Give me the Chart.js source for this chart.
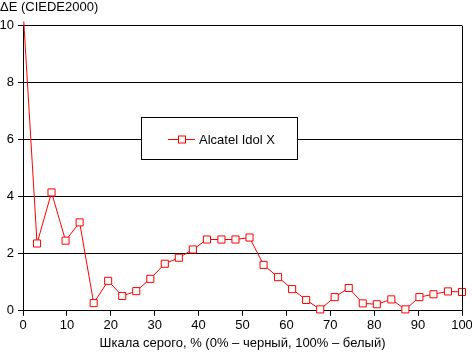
<!DOCTYPE html>
<html>
<head>
<meta charset="utf-8">
<script src="https://cdn.jsdelivr.net/npm/chart.js@4/dist/chart.umd.min.js"></script>
<style>
  body { margin: 0; background: #fff; }
  #wrap { width: 472px; height: 352px; }
</style>
</head>
<body>
<div id="wrap"><canvas id="c" width="472" height="352"></canvas></div>
<script>
// grey level (%) and delta E values
const grayLevels = [0, 3.2, 6.5, 9.7, 12.9, 16.1, 19.4, 22.6, 25.8, 29.0, 32.3, 35.5, 38.7, 41.9, 45.2, 48.4,
                    51.6, 54.8, 58.1, 61.3, 64.5, 67.7, 71.0, 74.2, 77.4, 80.6, 83.9, 87.1, 90.3, 93.5, 96.8, 100];
const deltaE = [10.6, 2.36, 4.15, 2.46, 3.10, 0.27, 1.05, 0.52, 0.69, 1.12, 1.65, 1.86, 2.15, 2.50, 2.50, 2.50,
                2.57, 1.61, 1.18, 0.76, 0.38, 0.05, 0.48, 0.80, 0.26, 0.23, 0.40, 0.05, 0.48, 0.58, 0.68, 0.66];
const seriesName = 'Alcatel Idol X';
const yTitle = 'ΔE (CIEDE2000)';
const xTitle = 'Шкала серого, % (0% – черный, 100% – белый)';

const FONT = 'Arial, "Liberation Sans", sans-serif';

// right border + legend box sitting inside the plot
const extras = {
    id: 'extras',
    afterDraw(chart) {
        const { ctx, chartArea } = chart;
        ctx.save();
        ctx.strokeStyle = '#000';
        ctx.lineWidth = 1;
        ctx.beginPath();
        ctx.moveTo(Math.round(chartArea.right) + 0.5, chartArea.top);
        ctx.lineTo(Math.round(chartArea.right) + 0.5, chartArea.bottom);
        ctx.stroke();

        // legend
        ctx.fillStyle = '#fff';
        ctx.fillRect(141.5, 117.5, 156, 42);
        ctx.strokeRect(141.5, 117.5, 156, 42);
        ctx.strokeStyle = '#ff0000';
        ctx.beginPath();
        ctx.moveTo(168, 139.5);
        ctx.lineTo(195, 139.5);
        ctx.stroke();
        ctx.fillStyle = '#fff';
        ctx.fillRect(178.5, 136, 7, 7);
        ctx.strokeRect(178.5, 136, 7, 7);
        ctx.fillStyle = '#000';
        ctx.font = '13px ' + FONT;
        ctx.textBaseline = 'middle';
        ctx.fillText(seriesName, 199, 140);
        ctx.restore();
    }
};

new Chart(document.getElementById('c'), {
    type: 'line',
    data: {
        datasets: [{
            label: seriesName,
            data: grayLevels.map((x, i) => ({ x, y: deltaE[i] })),
            borderColor: '#ff0000',
            borderWidth: 1,
            backgroundColor: '#ffffff',
            pointStyle: 'rect',
            pointRadius: 5,
            pointBorderWidth: 1,
            pointBorderColor: '#ff0000',
            pointBackgroundColor: '#ffffff',
            tension: 0,
            clip: { left: 6, right: 6, top: 4, bottom: 6 }
        }]
    },
    options: {
        responsive: false,
        animation: false,
        layout: { padding: 0 },
        plugins: {
            legend: { display: false },
            tooltip: { enabled: false },
            title: {
                display: true,
                text: yTitle,
                align: 'start',
                color: '#000',
                font: { family: FONT, size: 13, weight: 'normal' },
                padding: { top: 0, bottom: 10 }
            }
        },
        scales: {
            x: {
                type: 'linear',
                min: 0,
                max: 100,
                ticks: { stepSize: 10, color: '#000', padding: 2, maxRotation: 0,
                         font: { family: FONT, size: 13 } },
                grid: { drawOnChartArea: false, drawTicks: true, tickLength: 5, color: '#000' },
                border: { color: '#000', width: 1 },
                title: { display: true, text: xTitle, color: '#000',
                         font: { family: FONT, size: 13 }, padding: { top: 0, bottom: 1 } },
                afterFit(scale) { scale.paddingRight = 10; scale.paddingLeft = 0; }
            },
            y: {
                min: 0,
                max: 10,
                ticks: { stepSize: 2, color: '#000', padding: 4,
                         font: { family: FONT, size: 13 } },
                grid: { color: '#000', tickLength: 5 },
                border: { color: '#000', width: 1 },
                afterFit(scale) { scale.width = 23; }
            }
        }
    },
    plugins: [extras]
});
</script>
</body>
</html>
